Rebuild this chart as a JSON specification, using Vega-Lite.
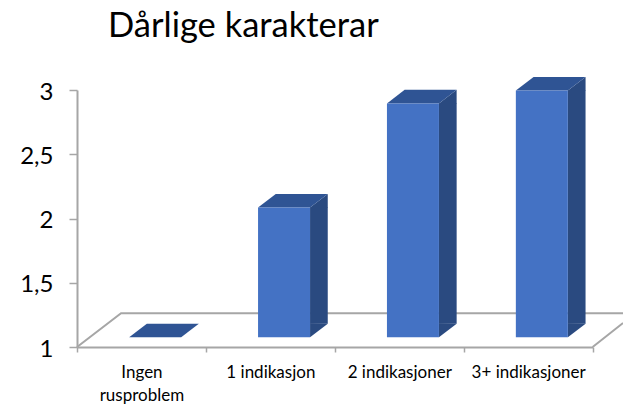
{
  "$schema": "https://vega.github.io/schema/vega-lite/v6.json",
  "width": 515.6,
  "height": 257,
  "autosize": {"type": "none"},
  "padding": {"left": 77, "top": 90, "right": 30.4, "bottom": 57},
  "background": "white",
  "config": {"view": {"stroke": null}},
  "title": {
    "text": "Dårlige karakterar",
    "anchor": "start",
    "frame": "group",
    "dx": 31,
    "offset": 32,
    "font": "Lato",
    "fontSize": 34.5,
    "fontWeight": "normal",
    "color": "#000000"
  },
  "data": {
    "values": [
      {"category": "Ingen rusproblem", "value": 1},
      {"category": "1 indikasjon", "value": 2.01},
      {"category": "2 indikasjoner", "value": 2.82},
      {"category": "3+ indikasjoner", "value": 2.92}
    ]
  },
  "encoding": {
    "x": {
      "field": "category",
      "type": "nominal",
      "sort": null,
      "title": null,
      "scale": {"type": "band", "paddingInner": 0, "paddingOuter": 0},
      "axis": {
        "labelAngle": 0,
        "labelFont": "Lato",
        "labelFontSize": 17,
        "labelColor": "#000000",
        "labelPadding": 12,
        "labelLineHeight": 23,
        "labelExpr": "datum.label == 'Ingen rusproblem' ? ['Ingen', 'rusproblem'] : datum.label",
        "tickBand": "extent",
        "tickSize": 5,
        "tickColor": "#A6A6A6",
        "tickWidth": 1.5,
        "domainColor": "#A6A6A6",
        "domainWidth": 2,
        "grid": false
      }
    },
    "y": {
      "field": "value",
      "type": "quantitative",
      "title": null,
      "scale": {"domain": [1, 3], "nice": false, "zero": false},
      "axis": {
        "values": [1, 1.5, 2, 2.5, 3],
        "format": "~g",
        "labelExpr": "replace(datum.label, '.', ',')",
        "labelFont": "Lato",
        "labelFontSize": 24,
        "labelColor": "#000000",
        "labelPadding": 16,
        "labelBaseline": "middle",
        "labelOffset": 2,
        "tickSize": 8,
        "tickColor": "#A6A6A6",
        "tickWidth": 1.5,
        "domainColor": "#A6A6A6",
        "domainWidth": 2,
        "grid": false
      }
    }
  },
  "layer": [
    {
      "transform": [{"filter": "datum.category == 'Ingen rusproblem'"}],
      "mark": {
        "type": "point",
        "shape": "M-64.4,0 L-20.4,-33.7 L481.6,-33.7 M451.2,0 L481.6,-24",
        "size": 4,
        "filled": false,
        "stroke": "#A6A6A6",
        "strokeWidth": 2,
        "opacity": 1
      }
    },
    {
      "transform": [{"filter": "datum.value > 1"}],
      "mark": {
        "type": "bar",
        "width": 17.7,
        "xOffset": 48.55,
        "x2Offset": 48.55,
        "yOffset": -9.7,
        "y2Offset": -23.3,
        "color": "#2A4A80"
      },
      "encoding": {"y2": {"datum": 1}}
    },
    {
      "transform": [{"filter": "datum.value > 1"}],
      "mark": {
        "type": "point",
        "shape": "M39.7,-9.2 L39.7,-9.7 L57.4,-23.3 L57.4,-9.2 Z",
        "size": 4,
        "filled": true,
        "fill": "#2A4A80",
        "opacity": 1
      }
    },
    {
      "transform": [{"filter": "datum.value > 1"}],
      "mark": {
        "type": "point",
        "shape": "M39.7,-9.7 L57.4,-23.3 L39.7,-23.8 Z",
        "size": 4,
        "filled": true,
        "fill": "#2A4A80",
        "opacity": 1
      },
      "encoding": {"y": {"datum": 1}}
    },
    {
      "mark": {
        "type": "point",
        "shape": "M-12.3,-9.7 L39.7,-9.7 L57.4,-23.3 L5.4,-23.3 Z",
        "size": 4,
        "filled": true,
        "fill": "#2F5494",
        "opacity": 1
      }
    },
    {
      "mark": {
        "type": "bar",
        "width": 52,
        "xOffset": 13.7,
        "x2Offset": 13.7,
        "yOffset": -9.7,
        "y2Offset": -9.7,
        "color": "#4472C4"
      },
      "encoding": {"y2": {"datum": 1}}
    }
  ]
}
